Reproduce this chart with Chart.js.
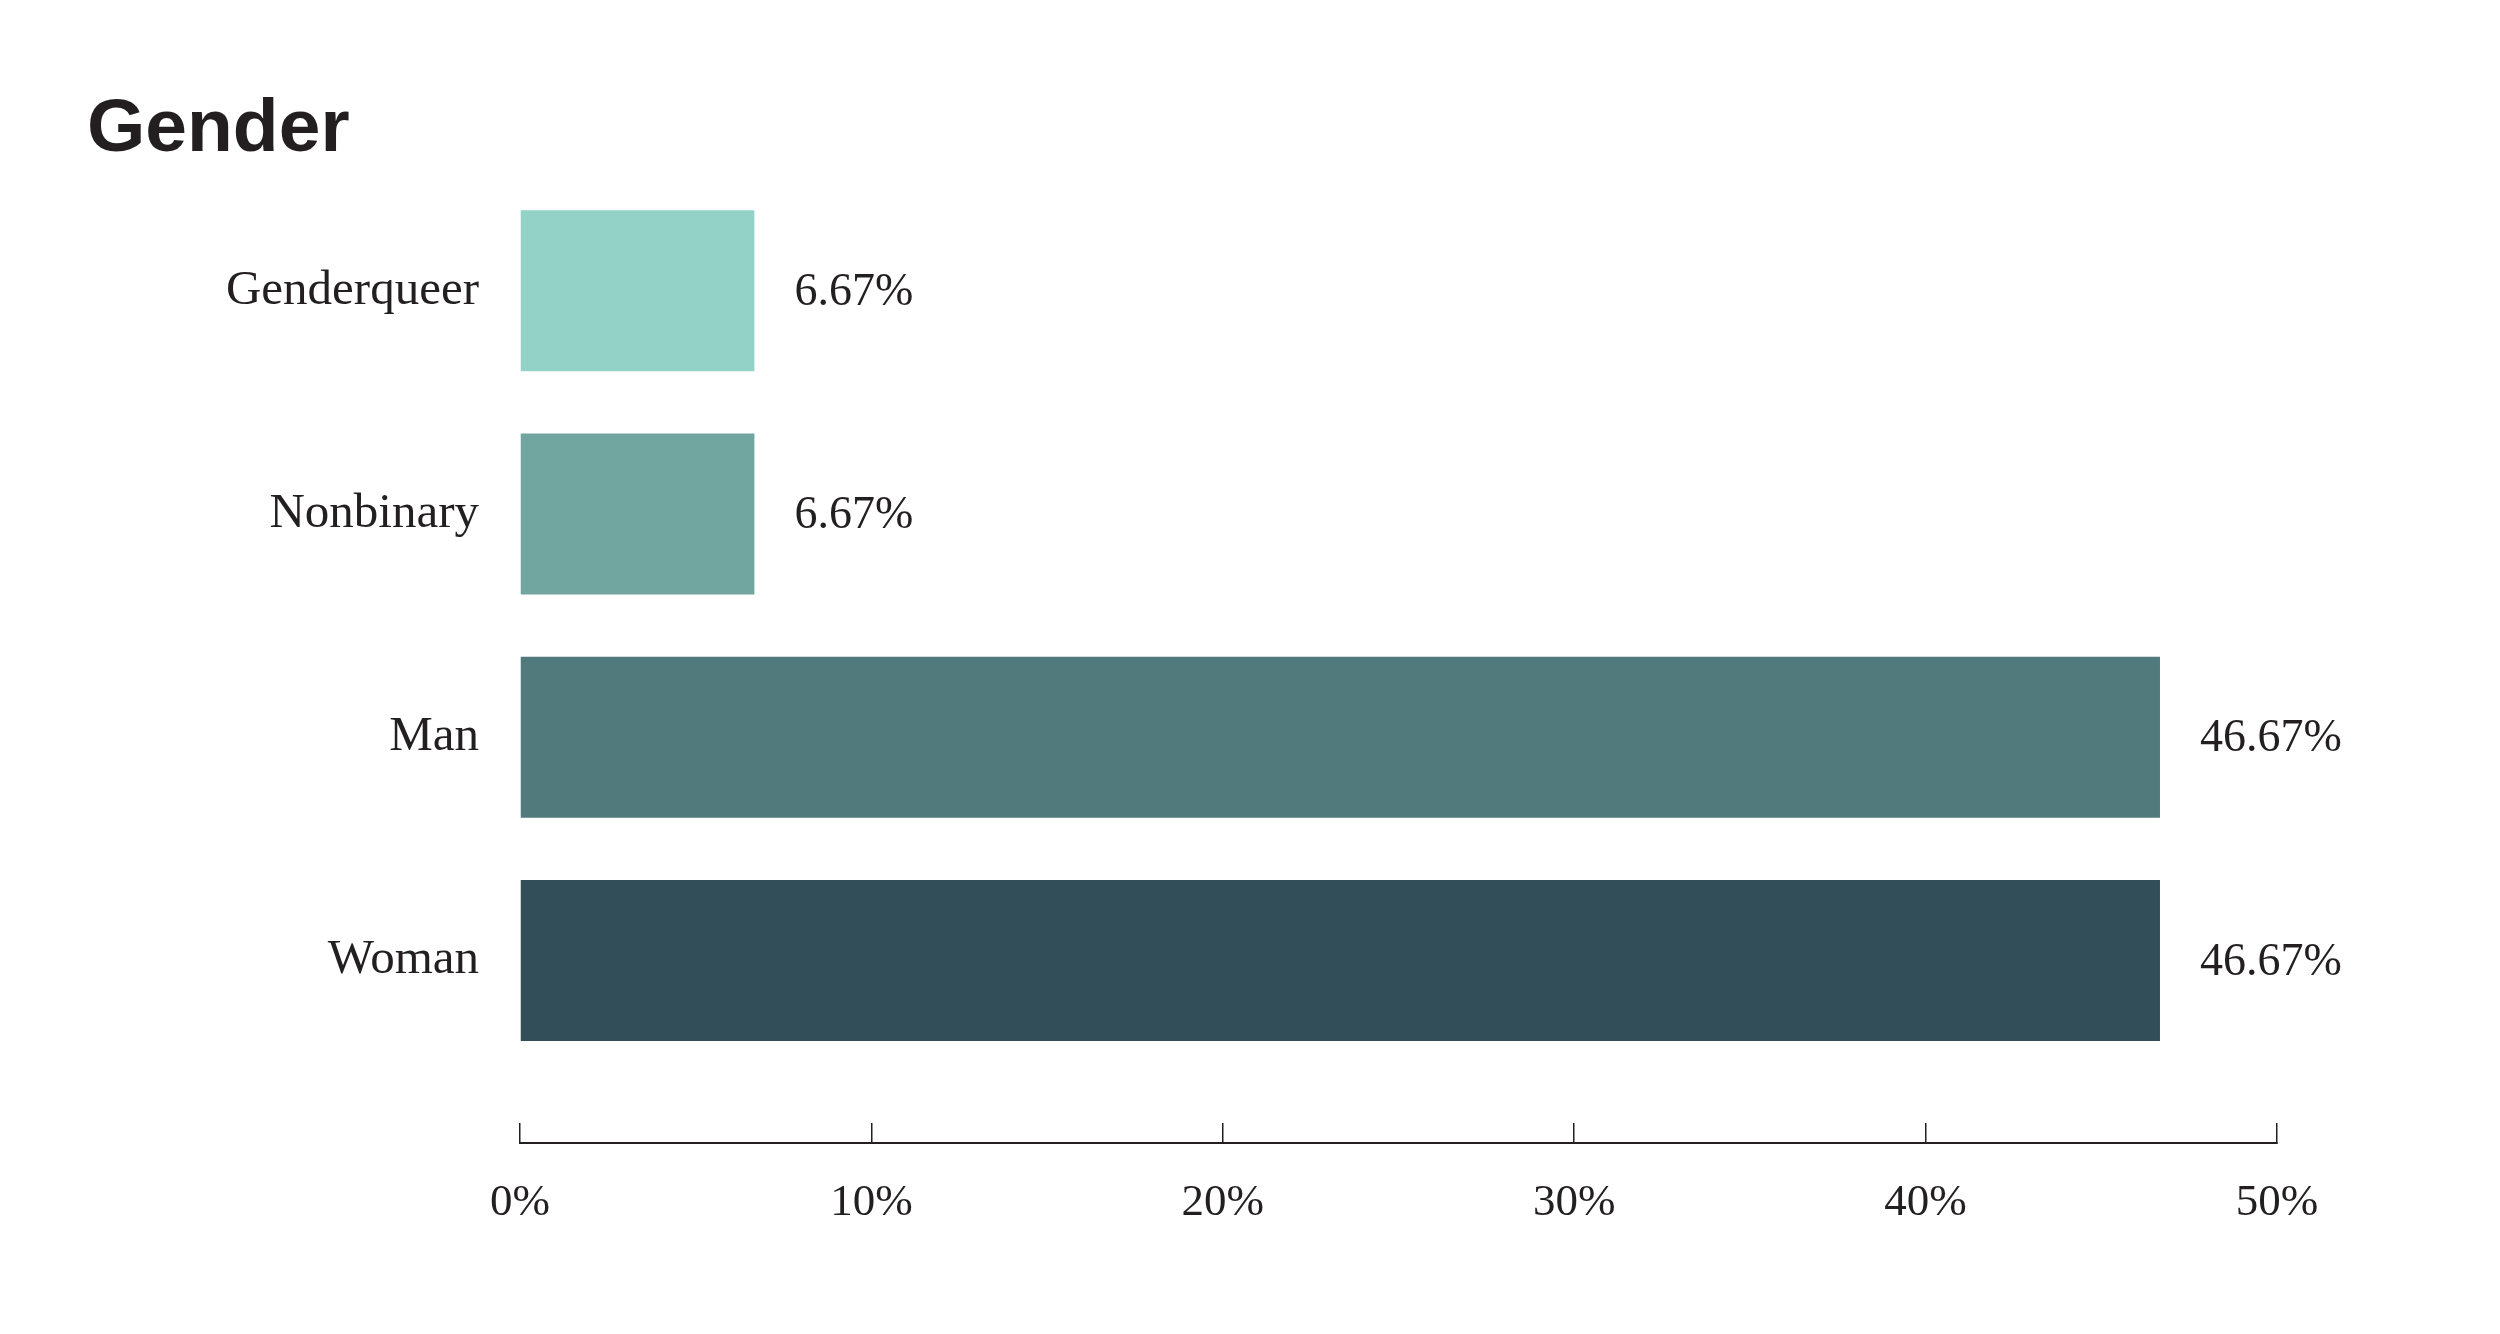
<!DOCTYPE html>
<html>
<head>
<meta charset="utf-8">
<script src="https://cdn.jsdelivr.net/npm/chart.js@4/dist/chart.umd.min.js"></script>
<style>
  html, body { margin: 0; padding: 0; background: #ffffff; }
  #wrap { width: 2500px; height: 1334px; position: relative; }
</style>
</head>
<body>
<div id="wrap"><canvas id="c" width="2500" height="1334"></canvas></div>
<script>
const titleText = 'Gender';
const categories = ['Genderqueer', 'Nonbinary', 'Man', 'Woman'];
const percentValues = [6.67, 6.67, 46.67, 46.67];
const barColors = ['#93D2C6', '#71A5A0', '#517A7C', '#324F59'];
const xTickValues = [0, 10, 20, 30, 40, 50];

const ink = '#231F20';
const serif = "'Liberation Serif', 'DejaVu Serif', serif";

const valueLabels = {
  id: 'valueLabels',
  afterDatasetsDraw(chart) {
    const ctx = chart.ctx;
    const meta = chart.getDatasetMeta(0);
    ctx.save();
    ctx.fillStyle = ink;
    ctx.font = "46px " + serif;
    ctx.textAlign = 'left';
    ctx.textBaseline = 'alphabetic';
    meta.data.forEach((bar, i) => {
      const v = chart.data.datasets[0].data[i];
      ctx.fillText(v.toFixed(2) + '%', bar.x + 40, bar.y + 14);
    });
    ctx.restore();
  }
};

new Chart(document.getElementById('c'), {
  type: 'bar',
  data: {
    labels: categories,
    datasets: [{
      data: percentValues,
      backgroundColor: barColors,
      borderWidth: 0,
      categoryPercentage: 1,
      barPercentage: 0.721
    }]
  },
  options: {
    indexAxis: 'y',
    responsive: false,
    animation: false,
    devicePixelRatio: 1,
    layout: { padding: { left: 87, right: 223, top: 0, bottom: 0 } },
    plugins: {
      legend: { display: false },
      tooltip: { enabled: false },
      title: {
        display: true,
        text: titleText,
        align: 'start',
        color: ink,
        font: { family: "'Liberation Sans', Arial, sans-serif", size: 75, weight: 'bold', lineHeight: 1.2 },
        padding: { top: 85, bottom: 4 }
      }
    },
    scales: {
      y: {
        type: 'category',
        offset: true,
        afterBuildTicks: (s) => { s._valueRange = categories.length + 0.317; },
        afterFit: (s) => { s.width = 433; },
        grid: { display: false, drawTicks: false },
        border: { display: false },
        ticks: {
          color: ink,
          padding: 41,
          font: { family: serif, size: 49 }
        }
      },
      x: {
        type: 'linear',
        min: 0,
        max: 50,
        afterBuildTicks: (s) => { s.ticks = xTickValues.map(v => ({ value: v })); },
        afterFit: (s) => { s.height = 191; },
        grid: {
          drawOnChartArea: false,
          drawTicks: true,
          tickLength: -20,
          color: ink,
          lineWidth: 1.5
        },
        border: { display: true, color: ink, width: 2 },
        ticks: {
          color: ink,
          padding: 53,
          font: { family: serif, size: 45 },
          callback: (v) => v + '%'
        }
      }
    }
  },
  plugins: [valueLabels]
});
</script>
</body>
</html>
